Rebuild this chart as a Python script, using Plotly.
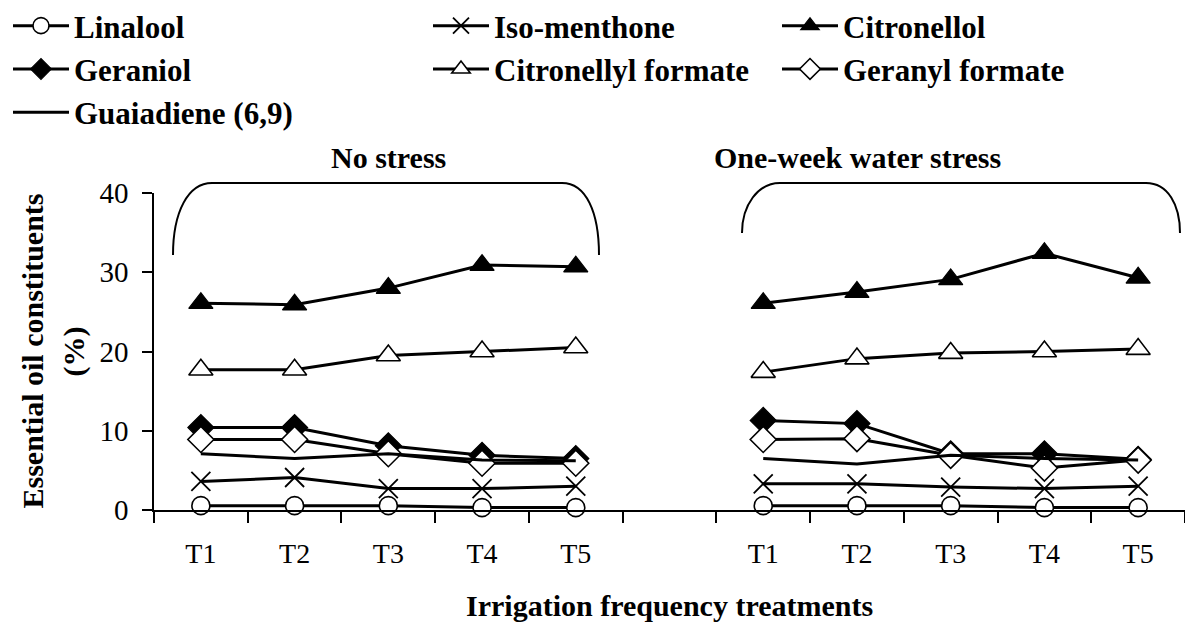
import plotly.graph_objects as go

# ---------------- data ----------------
treatments = ["T1", "T2", "T3", "T4", "T5"]
groups = ["No stress", "One-week water stress"]

linalool_ns = [0.55, 0.55, 0.55, 0.3, 0.3]
linalool_ws = [0.55, 0.55, 0.55, 0.3, 0.3]
isomenthone_ns = [3.6, 4.1, 2.7, 2.7, 3.0]
isomenthone_ws = [3.3, 3.3, 2.9, 2.7, 3.0]
citronellol_ns = [26.1, 25.9, 28.0, 30.9, 30.7]
citronellol_ws = [26.1, 27.5, 29.1, 32.4, 29.3]
geraniol_ns = [10.4, 10.4, 8.1, 6.9, 6.5]
geraniol_ws = [11.3, 10.9, 7.1, 7.1, 6.4]
citronellyl_formate_ns = [17.7, 17.7, 19.5, 20.0, 20.5]
citronellyl_formate_ws = [17.4, 19.1, 19.8, 20.0, 20.3]
geranyl_formate_ns = [8.9, 8.9, 7.1, 5.9, 5.9]
geranyl_formate_ws = [8.9, 9.0, 6.9, 5.3, 6.3]
guaiadiene_ns = [7.1, 6.5, 7.1, 6.3, 6.2]
guaiadiene_ws = [6.5, 5.8, 6.9, 6.5, 6.3]

y_ticks = [0, 10, 20, 30, 40]

# ---------------- layout helpers ----------------
OFF = 8                      # page body margin of the html page
W, H = 1193 - OFF, 636 - OFF
ML, MT, PW, PH = 146, 185, 1031, 317
MR, MB = W - ML - PW, H - MT - PH

# x positions: group 1 at 0..4, empty slot at 5, group 2 at 6..10
xpos = list(range(5)) + [5] + list(range(6, 11))
tickvals = list(range(5)) + list(range(6, 11))
ticktext = treatments + treatments


def join(a, b):
    return list(a) + [None] + list(b)


def px(x, y):
    """window pixel -> paper coordinates"""
    return (x - OFF - ML) / PW, (MT + PH - (y - OFF)) / PH


def cx(x):
    return max(0.0, (x - OFF) / W)


def path(points):
    cmds = []
    for c, pts in points:
        s = c
        for (x, y) in pts:
            u, v = px(x, y)
            s += f" {u:.5f},{v:.5f}"
        cmds.append(s)
    return " ".join(cmds)


FONT = "Liberation Serif, Times New Roman, serif"

series = [
    ("Linalool", linalool_ns, linalool_ws,
     dict(symbol="circle", size=18, color="white", line=dict(color="black", width=1.6)), "legend"),
    ("Iso-menthone", isomenthone_ns, isomenthone_ws,
     dict(symbol="x-thin-open", size=19, color="black", line=dict(color="black", width=1.8)), "legend2"),
    ("Citronellol", citronellol_ns, citronellol_ws,
     dict(symbol="triangle-up", size=21, color="black", line=dict(color="black", width=1.2)), "legend3"),
    ("Geraniol", geraniol_ns, geraniol_ws,
     dict(symbol="diamond", size=20, color="black", line=dict(color="black", width=1.2)), "legend"),
    ("Citronellyl formate", citronellyl_formate_ns, citronellyl_formate_ws,
     dict(symbol="triangle-up", size=21, color="white", line=dict(color="black", width=1.6)), "legend2"),
    ("Geranyl formate", geranyl_formate_ns, geranyl_formate_ws,
     dict(symbol="diamond", size=20, color="white", line=dict(color="black", width=1.6)), "legend3"),
    ("Guaiadiene (6,9)", guaiadiene_ns, guaiadiene_ws, None, "legend"),
]

fig = go.Figure()
for name, a, b, marker, leg in series:
    fig.add_trace(go.Scatter(
        x=xpos, y=join(a, b), name=name,
        mode="lines+markers" if marker else "lines",
        marker=marker if marker else None,
        line=dict(color="black", width=3),
        connectgaps=False, legend=leg, legendgroup=name,
        cliponaxis=False,
    ))

# brackets above each group
left_br = path([("M", [(173, 255)]), ("C", [(173, 212), (188, 183), (212, 183)]),
                ("L", [(562, 183)]), ("C", [(586, 183), (599, 212), (599, 255)])])
right_br = path([("M", [(742, 233)]), ("C", [(742, 205), (758, 183), (780, 183)]),
                 ("L", [(1146, 183)]), ("C", [(1168, 183), (1180, 205), (1180, 233)])])
for p in (left_br, right_br):
    fig.add_shape(type="path", path=p, xref="paper", yref="paper",
                  line=dict(color="black", width=2))

fig.add_annotation(x=2, y=px(0, 157)[1], xref="x", yref="paper", text=f"<b>{groups[0]}</b>",
                   showarrow=False, font=dict(family=FONT, size=30, color="black"),
                   xanchor="center", yanchor="middle")
fig.add_annotation(x=px(712, 0)[0], y=px(0, 157)[1], xref="paper", yref="paper",
                   text=f"<b>{groups[1]}</b>",
                   showarrow=False, font=dict(family=FONT, size=30, color="black"),
                   xanchor="left", yanchor="middle")

# axis titles
fig.add_annotation(x=px(32, 0)[0], y=0.5, xref="paper", yref="paper",
                   text="<b>Essential oil constituents</b>", textangle=-90, showarrow=False,
                   font=dict(family=FONT, size=30, color="black"), xanchor="center", yanchor="middle")
fig.add_annotation(x=px(73, 0)[0], y=0.5, xref="paper", yref="paper",
                   text="<b>(%)</b>", textangle=-90, showarrow=False,
                   font=dict(family=FONT, size=30, color="black"), xanchor="center", yanchor="middle")
fig.add_annotation(x=0.5, y=px(0, 605)[1], xref="paper", yref="paper",
                   text="<b>Irrigation frequency treatments</b>", showarrow=False,
                   font=dict(family=FONT, size=30, color="black"), xanchor="center", yanchor="middle")

legend_common = dict(xref="container", yref="paper", xanchor="left", yanchor="top",
                     y=px(0, -1)[1],
                     font=dict(family=FONT, size=31, color="black", weight="bold"),
                     bgcolor="rgba(0,0,0,0)",
                     orientation="v", tracegroupgap=0, itemwidth=56)

fig.update_layout(
    width=W, height=H,
    margin=dict(l=ML, r=MR, t=MT, b=MB, autoexpand=False),
    paper_bgcolor="white", plot_bgcolor="white",
    font=dict(family=FONT, color="black"),
    showlegend=True,
    legend=dict(x=0.0, **legend_common),
    legend2=dict(x=cx(494 - 66), **legend_common),
    legend3=dict(x=cx(843 - 66), **legend_common),
    xaxis=dict(range=[-0.5, 10.5], tickmode="array", tickvals=tickvals, ticktext=ticktext,
               ticks="", showgrid=False, zeroline=False, showline=True, linecolor="black",
               linewidth=1.5, ticklabelstandoff=18, automargin=False,
               tickfont=dict(family=FONT, size=28, color="black"),
               minor=dict(tickmode="array", tickvals=[i - 0.5 for i in range(12)], ticks="outside",
                          ticklen=11, tickcolor="black", tickwidth=1.5, showgrid=False)),
    yaxis=dict(range=[0, 40], tickmode="array", tickvals=y_ticks, ticks="outside", ticklen=10,
               tickcolor="black", tickwidth=1.5, showgrid=False, zeroline=False, showline=True,
               linecolor="black", linewidth=1.5, automargin=False, ticklabelstandoff=8,
               tickfont=dict(family=FONT, size=29, color="black")),
)

fig.write_html("out.html")
